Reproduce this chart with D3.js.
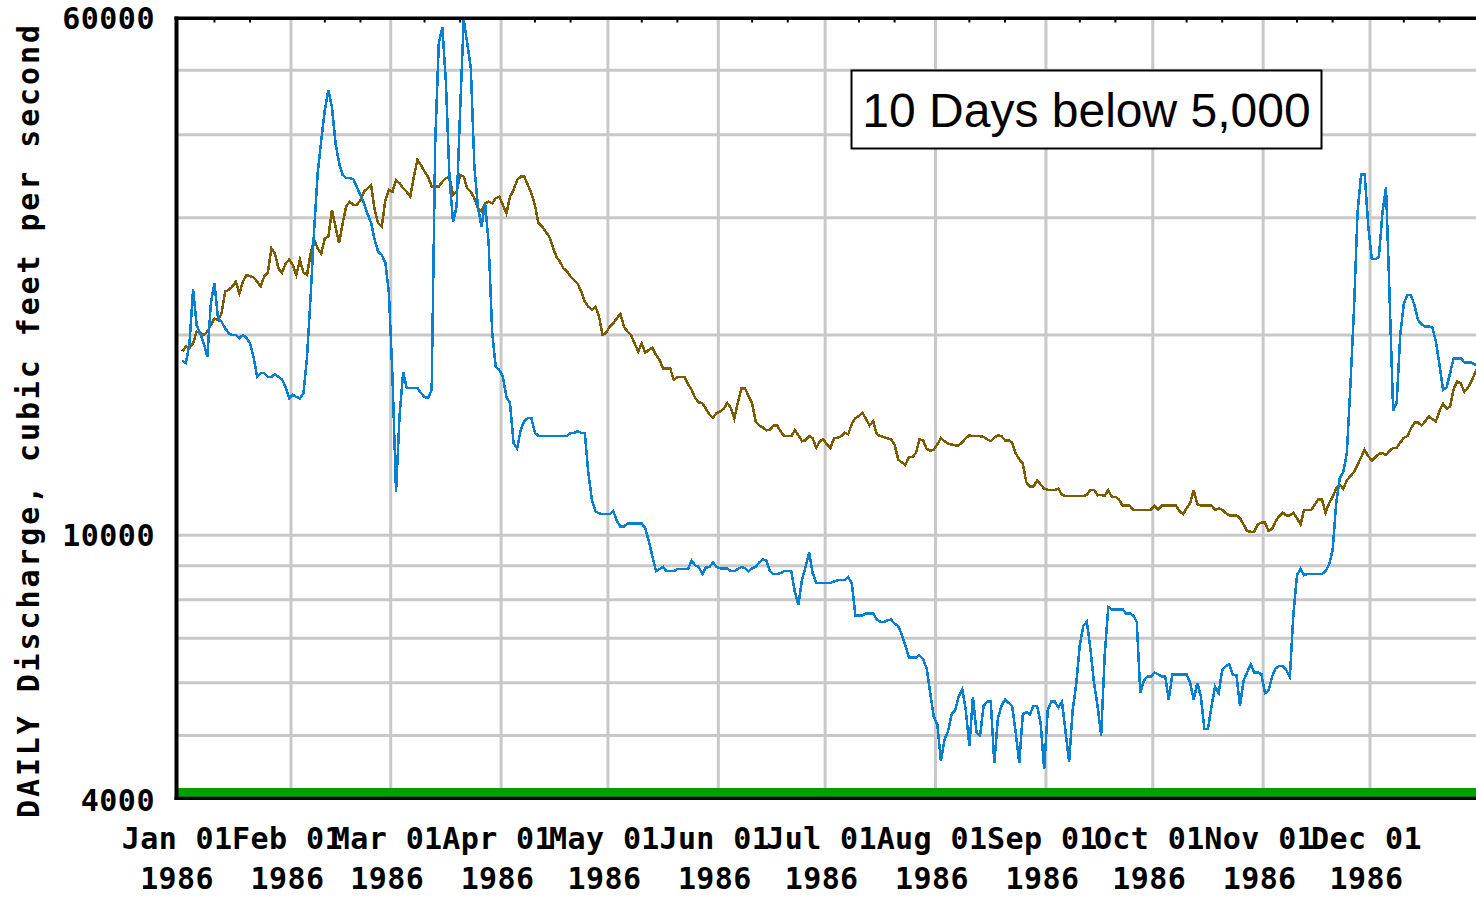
<!DOCTYPE html>
<html><head><meta charset="utf-8">
<script src="https://cdn.jsdelivr.net/npm/d3@7"></script>
<style>body{margin:0;background:#fff}svg{display:block}</style>
</head><body>
<script>
// ---------- data ----------
const monthLabels = ["Jan 01","Feb 01","Mar 01","Apr 01","May 01","Jun 01","Jul 01","Aug 01","Sep 01","Oct 01","Nov 01","Dec 01"];
const yearLabel = "1986";
const yTickLabels = [4000, 10000, 60000];
const gridValues = [5000, 6000, 7000, 8000, 9000, 10000, 20000, 30000, 40000, 50000];
const yTitle = "DAILY Discharge, cubic feet per second";
const noteText = "10 Days below 5,000";

// daily discharge 1986 (Jan 1 .. Dec 31), cfs
const dailyFlow = [
18300,18150,19430,23420,20700,20110,19430,18530,22340,23940,
21170,20940,20470,20110,20000,20000,19780,20000,19800,19430,
18530,17300,17530,17530,17300,17300,17460,17300,17130,16690,
16060,16250,16140,16060,16360,18530,22810,28760,35040,39260,
43560,46680,44000,38860,36260,34800,34400,34400,34300,33360,
32460,31580,30400,29470,27780,26660,26380,25660,23130,17300,
11620,15160,17600,16650,16650,16650,16650,16360,16140,16080,
16540,38860,54900,58000,48000,34520,29570,31140,43560,59500,
54900,50380,35760,31140,29060,31580,27500,20140,17900,17720,
17300,16140,15800,13760,13510,14390,14850,15000,15000,14250,
14100,14100,14100,14100,14100,14100,14100,14100,14100,14250,
14250,14330,14250,14250,12400,11300,10860,10790,10760,10760,
10760,10870,10520,10300,10300,10420,10420,10420,10420,10420,
10240,9780,9290,8830,8900,8960,8830,8830,8830,8900,
8900,8900,8900,9160,9010,8960,8740,8940,8960,9100,
8960,8920,8920,8920,8830,8830,8900,8960,8920,8830,
8920,8960,9100,9200,9160,8830,8740,8740,8770,8830,
8830,8830,8210,7860,8570,8960,9430,8770,8480,8480,
8480,8480,8480,8520,8560,8560,8560,8650,8460,7580,
7580,7580,7630,7630,7630,7470,7410,7410,7450,7470,
7360,7310,7090,6840,6550,6550,6550,6600,6510,6310,
5790,5340,5190,4580,4930,5070,5380,5460,5720,5870,
5460,4820,5720,5050,5000,5540,5620,5620,4550,5300,
5540,5660,5600,5540,5050,4550,5380,5420,5380,5540,
5540,5230,4450,5460,5620,5620,5510,5620,5070,4560,
5460,5970,6840,7310,7410,6740,6000,5540,5000,6600,
7800,7740,7740,7740,7740,7630,7630,7580,7410,5800,
6050,6130,6130,6220,6180,6130,6130,5660,6180,6180,
6180,6180,6180,6000,5660,6000,5720,5110,5110,5540,
5920,5790,6270,6360,6400,6160,6160,5540,6050,6220,
6400,6220,6220,6180,5790,5840,6130,6310,6360,6360,
6270,6130,7630,8710,8900,8710,8740,8740,8740,8740,
8740,8830,9030,9500,11160,12180,12450,13290,16790,21830,
30540,34820,34820,29230,26000,26000,26200,30540,33330,22800,
15380,15840,20000,22310,22970,22970,22150,21050,20740,20590,
20590,20530,19560,18060,16540,16670,17540,18450,18450,18450,
18190,18190,18190,18030,18200
];

// median daily discharge, cfs
const medianFlow = [
18900,19210,19110,19430,20230,20120,20000,20230,20700,21170,
21050,21550,23240,23370,23640,24050,23100,24050,24610,24500,
24410,24050,23640,24500,24830,26990,26500,25150,24830,25600,
25960,25480,24610,25930,24830,24610,26500,27780,26990,26500,
27950,28110,30820,29100,27470,29430,31180,31730,31360,31360,
31900,32840,33220,33610,30820,29430,29100,31900,33030,32840,
34190,33800,33220,32840,32280,34590,36640,36020,35200,34590,
33420,33420,33420,34000,34390,34590,32460,32840,34790,34590,
33220,32840,32090,31000,30650,31540,31730,31540,32090,32280,
31360,30470,32280,33030,34190,34590,34590,33610,32650,31360,
29430,29100,28600,28110,27150,26230,25780,25190,24930,24500,
24190,23900,23240,22450,22060,21810,22060,21310,20000,20150,
20590,20830,21180,21510,20590,20230,20000,19420,18890,19420,
18800,19000,19140,18660,18340,17800,17800,17800,17140,17280,
17280,17280,16860,16540,16070,15840,15800,15490,15200,15010,
15270,15340,15490,15800,15550,14990,15840,16620,16620,16180,
15770,14830,14620,14520,14380,14400,14620,14620,14330,14090,
14090,14090,14400,14130,13850,13890,14090,13990,13530,13850,
13930,13690,13530,13990,14010,14090,14250,14190,14720,14990,
15110,15270,14940,14620,14830,14190,14090,14050,13990,13930,
13690,13000,12870,12750,13100,13100,13290,13930,13890,13490,
13390,13440,13690,13990,13850,13730,13690,13650,13650,13790,
13990,14130,14090,14090,14090,14050,13930,13850,14010,14130,
14090,13890,13890,13790,13290,13000,12820,12000,11830,11830,
12090,11920,11750,11700,11700,11700,11750,11500,11450,11450,
11450,11450,11450,11450,11500,11700,11700,11480,11500,11450,
11700,11420,11420,11320,11080,11080,11080,10920,10920,10920,
10920,10920,10920,11080,10920,11080,11080,11080,11080,11080,
10870,10760,10970,11170,11700,11130,11080,11080,11080,11080,
10920,10970,10920,10800,10710,10710,10710,10600,10380,10150,
10120,10120,10380,10450,10450,10150,10220,10490,10680,10810,
10710,10710,10810,10600,10380,10920,10920,10920,11130,11320,
11320,10810,11170,11420,11750,11910,11750,12090,12270,12450,
12760,13100,13440,13150,12950,13100,13250,13290,13200,13390,
13530,13530,13790,14010,14090,14470,14760,14760,14620,14830,
15090,14940,14830,15380,15770,15490,15620,16590,17030,16910,
16420,16670,17030,17540,18000
];

// ---------- drawing ----------
const W = 1476, H = 898;
const plotLeft = 178, plotTop = 18, plotBottom = 798, plotRight = 1476;
const svg = d3.select("body").append("svg").attr("width", W).attr("height", H);
svg.append("rect").attr("width", W).attr("height", H).attr("fill", "#fff");

const x = d3.scaleTime()
  .domain([new Date(1986, 0, 1), new Date(1987, 0, 1)])
  .range([180.6, 1480.4]);
const y = d3.scaleLog().domain([4000, 60000]).range([800, 17.5]);

const dayDate = i => new Date(1986, 0, 1 + i, 12);
const monthDates = d3.range(12).map(m => new Date(1986, m, 1));

// grid
const grid = svg.append("g").attr("stroke", "#c8c8c8").attr("stroke-width", 3);
grid.selectAll(".hg").data(gridValues).join("line")
  .attr("x1", plotLeft).attr("x2", plotRight)
  .attr("y1", d => y(d)).attr("y2", d => y(d));
grid.selectAll(".vg").data(monthDates.slice(1)).join("line")
  .attr("x1", d => x(d)).attr("x2", d => x(d))
  .attr("y1", plotTop).attr("y2", plotBottom);

// green band
svg.append("rect").attr("x", plotLeft).attr("y", 788).attr("width", plotRight - plotLeft)
  .attr("height", 9).attr("fill", "#00a000");

// clip
svg.append("clipPath").attr("id", "clip").append("rect")
  .attr("x", plotLeft).attr("y", plotTop).attr("width", plotRight - plotLeft).attr("height", plotBottom - plotTop);

const line = d3.line().x((d, i) => x(dayDate(i))).y(d => y(d));
const lines = svg.append("g").attr("clip-path", "url(#clip)").attr("fill", "none")
  .attr("stroke-width", 2.5).attr("stroke-linejoin", "miter").attr("shape-rendering", "crispEdges");
lines.append("path").datum(medianFlow).attr("stroke", "#7d5c00").attr("d", line);
lines.append("path").datum(dailyFlow).attr("stroke", "#0780d2").attr("d", line);

// frame
svg.append("line").attr("x1", 176.5).attr("x2", 176.5).attr("y1", 16.5).attr("y2", 800)
  .attr("stroke", "#000").attr("stroke-width", 4);
svg.append("line").attr("x1", 174.5).attr("x2", W).attr("y1", 18.3).attr("y2", 18.3)
  .attr("stroke", "#000").attr("stroke-width", 3.4);
svg.append("line").attr("x1", 174.5).attr("x2", W).attr("y1", 798.4).attr("y2", 798.4)
  .attr("stroke", "#000").attr("stroke-width", 3.4);

// small top ticks (11th and 21st of each month)
const minorDates = [];
d3.range(12).forEach(m => { minorDates.push(new Date(1986, m, 10, 12)); minorDates.push(new Date(1986, m, 20, 12)); });
svg.append("g").selectAll("line").data(minorDates).join("line")
  .attr("x1", d => x(d)).attr("x2", d => x(d)).attr("y1", 18).attr("y2", 22.5)
  .attr("stroke", "#000").attr("stroke-width", 2);

const monoFont = "'DejaVu Sans Mono', 'Liberation Mono', monospace";

// y tick labels
svg.append("g").selectAll("text").data(yTickLabels).join("text")
  .attr("x", 155).attr("y", d => y(d) + 11)
  .attr("text-anchor", "end")
  .attr("font-family", monoFont).attr("font-weight", "bold").attr("font-size", 30)
  .attr("letter-spacing", 0.5)
  .text(d => String(d));

// x tick labels
const xl = svg.append("g").selectAll("text").data(monthDates).join("text")
  .attr("text-anchor", "middle")
  .attr("font-family", monoFont).attr("font-weight", "bold").attr("font-size", 30)
  .attr("letter-spacing", 0.4);
xl.append("tspan").attr("x", d => x(d) - 3.5).attr("y", 849).text((d, i) => monthLabels[i]);
xl.append("tspan").attr("x", d => x(d) - 3.5).attr("y", 889).text(yearLabel);

// y title
svg.append("text")
  .attr("transform", "translate(39,421.5) rotate(-90)")
  .attr("text-anchor", "middle")
  .attr("font-family", monoFont).attr("font-weight", "bold").attr("font-size", 30)
  .attr("textLength", 793).attr("lengthAdjust", "spacing")
  .text(yTitle);

// annotation box
svg.append("rect").attr("x", 851.5).attr("y", 70.5).attr("width", 470).attr("height", 78)
  .attr("fill", "#fff").attr("stroke", "#000").attr("stroke-width", 2);
svg.append("text").attr("x", 1086.5).attr("y", 127)
  .attr("text-anchor", "middle")
  .attr("font-family", "'Liberation Sans', Arial, sans-serif").attr("font-size", 48)
  .attr("fill", "#000")
  .text(noteText);
</script>
</body></html>
